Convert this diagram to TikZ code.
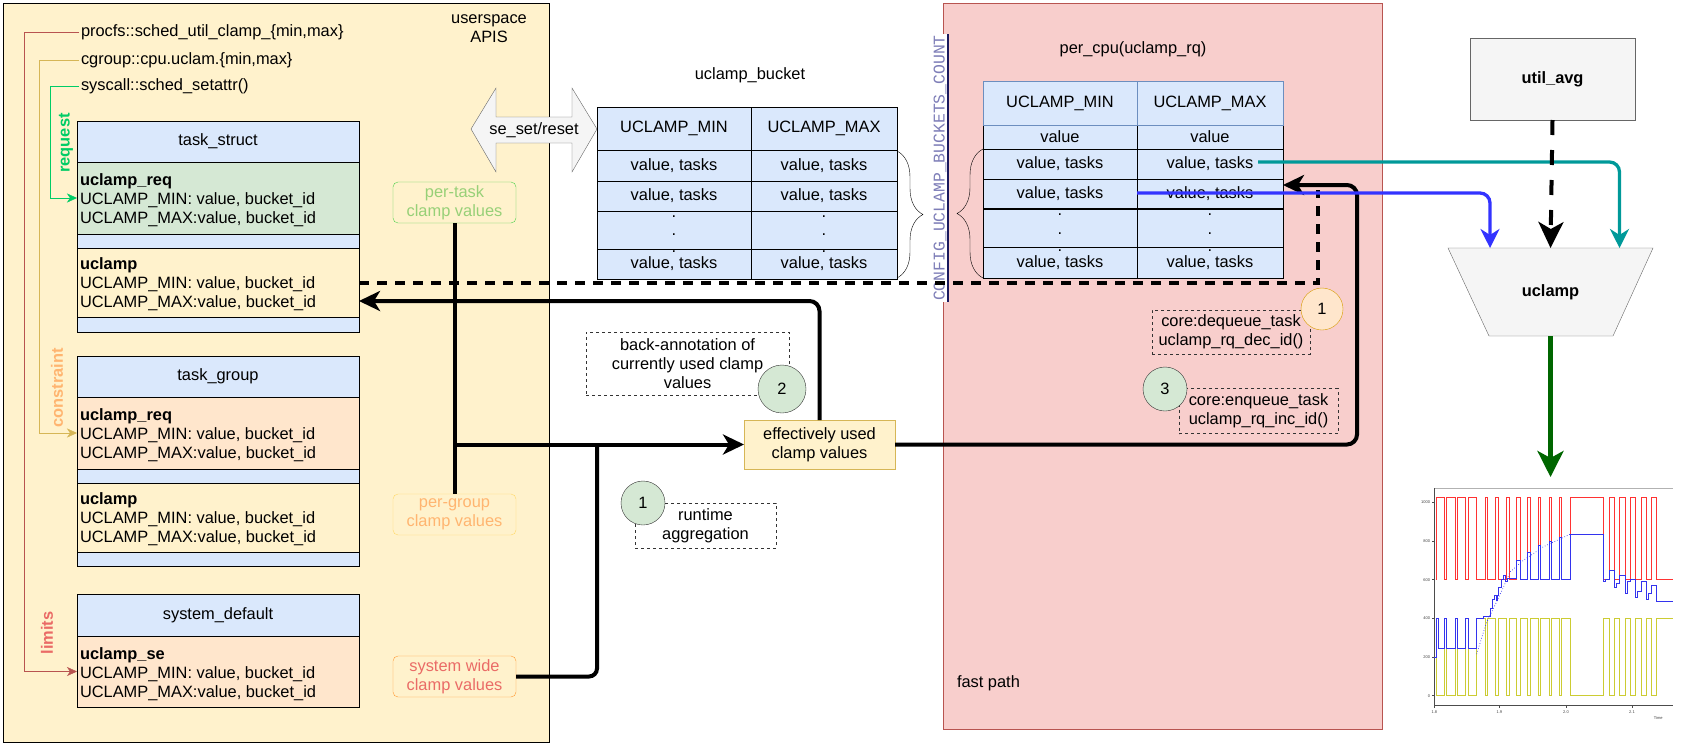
\documentclass[tikz,border=0pt]{standalone}
\usepackage{fontspec}
\setmainfont{Liberation Sans}
\newfontfamily\monofont{Liberation Mono}
\usetikzlibrary{arrows.meta,decorations.pathreplacing}
\definecolor{hdr}{HTML}{DAE8FC}
\definecolor{hdrS}{HTML}{6C8EBF}
\definecolor{greenF}{HTML}{D5E8D4}
\definecolor{peach}{HTML}{FFE6CC}
\definecolor{panelY}{HTML}{FFF2CC}
\definecolor{pinkF}{HTML}{F8CECC}
\definecolor{pinkS}{HTML}{B85450}
\definecolor{grayF}{HTML}{F5F5F5}
\definecolor{grayS}{HTML}{666666}
\definecolor{goldS}{HTML}{D6B656}
\definecolor{reqG}{HTML}{00CC66}
\definecolor{consO}{HTML}{FFB570}
\definecolor{limR}{HTML}{EA6B66}
\definecolor{ptS}{HTML}{4CD04C}
\definecolor{ptT}{HTML}{97D077}
\definecolor{pgS}{HTML}{FFD966}
\definecolor{swS}{HTML}{FF9933}
\definecolor{orS}{HTML}{D79B00}
\definecolor{cfgT}{HTML}{7E7EB8}
\definecolor{navyC}{HTML}{1A1A5E}
\definecolor{tealC}{HTML}{009999}
\definecolor{blueC}{HTML}{3333FF}
\definecolor{greenC}{HTML}{006600}
\definecolor{chartR}{HTML}{FF3333}
\definecolor{chartY}{HTML}{CCCC33}
\definecolor{chartB}{HTML}{3333EE}
\newcommand\fs{\fontsize{16.4}{19.2}\selectfont}
\begin{document}
\begin{tikzpicture}[x=1pt,y=-1pt,
  every node/.style={font=\fs, inner sep=0pt, outer sep=0pt},
  cellbox/.style 2 args={draw, anchor=north west, minimum width=#1, minimum height=#2},
  thinarrow/.style={-{Stealth[length=10pt,width=9pt,inset=3pt]}},
  bigarrow/.style={line width=4pt, -{Stealth[length=21pt,width=20pt,inset=6pt]}},
  midarrow/.style={line width=3.3pt, -{Stealth[length=19pt,width=19pt,inset=6pt]}},
  thickdash/.style={line width=4pt, dash pattern=on 10pt off 8pt},
  notebox/.style={draw=black!80, dash pattern=on 3pt off 3pt, line width=1pt, align=center},
  numcirc/.style={circle, draw=black!80, fill=greenF}
]
\useasboundingbox (0,0) rectangle (1686,745);

% panels
\node[cellbox={546}{739}, fill=panelY] (userpanel) at (3,3) {};
\node[cellbox={439}{726}, draw=pinkS, fill=pinkF] (fastpanel) at (943,3) {};
\node[align=center] (apis) at (489,29) {userspace\\APIS};
\node[anchor=west] (fastpath) at (957,683) {fast path};

% API labels
\node[anchor=west, inner sep=2pt] (procfs) at (79,32) {procfs::sched\_util\_clamp\_\{min,max\}};
\node[anchor=west, inner sep=2pt] (cgroup) at (79,60) {cgroup::cpu.uclam.\{min,max\}};
\node[anchor=west, inner sep=2pt] (syscall) at (79,86) {syscall::sched\_setattr()};

% task_struct
\node[cellbox={282}{41}, fill=hdr] (tshead) at (77,121) {task\_struct};
\node[cellbox={282}{72}, fill=greenF] (tsreq) at (77,162) {};
\node[cellbox={282}{14}, fill=hdr] (tss1) at (77,234) {};
\node[cellbox={282}{69}, fill=panelY] (tsuc) at (77,248) {};
\node[cellbox={282}{15}, fill=hdr] (tss2) at (77,317) {};
\node[anchor=west, align=left] (tsreqt) at (80,200) {\textbf{uclamp\_req}\\UCLAMP\_MIN: value, bucket\_id\\UCLAMP\_MAX:value, bucket\_id};
\node[anchor=west, align=left] (tsuct) at (80,284) {\textbf{uclamp}\\UCLAMP\_MIN: value, bucket\_id\\UCLAMP\_MAX:value, bucket\_id};

% task_group
\node[cellbox={282}{41}, fill=hdr] (tghead) at (77,356) {task\_group};
\node[cellbox={282}{72}, fill=peach] (tgreq) at (77,397) {};
\node[cellbox={282}{14}, fill=hdr] (tgs1) at (77,469) {};
\node[cellbox={282}{69}, fill=panelY] (tguc) at (77,483) {};
\node[cellbox={282}{14}, fill=hdr] (tgs2) at (77,552) {};
\node[anchor=west, align=left] (tgreqt) at (80,435) {\textbf{uclamp\_req}\\UCLAMP\_MIN: value, bucket\_id\\UCLAMP\_MAX:value, bucket\_id};
\node[anchor=west, align=left] (tguct) at (80,519) {\textbf{uclamp}\\UCLAMP\_MIN: value, bucket\_id\\UCLAMP\_MAX:value, bucket\_id};

% system_default
\node[cellbox={282}{42}, fill=hdr] (sdhead) at (77,594) {system\_default};
\node[cellbox={282}{71}, fill=peach] (sdse) at (77,636) {};
\node[anchor=west, align=left] (sdset) at (80,674) {\textbf{uclamp\_se}\\UCLAMP\_MIN: value, bucket\_id\\UCLAMP\_MAX:value, bucket\_id};

% side labels
\node[rotate=90, text=reqG, font=\fs\bfseries] (lreq) at (66,143) {request};
\node[rotate=90, text=consO, font=\fs\bfseries] (lcons) at (57,388) {constraint};
\node[rotate=90, text=limR, font=\fs\bfseries] (llim) at (47,633) {limits};

% API connectors
\draw[pinkS, thinarrow] (procfs.west) -- ++(-55,0) |- (sdse.west);
\draw[goldS, thinarrow] (cgroup.west) -- ++(-40,0) |- (tgreq.west);
\draw[reqG, thinarrow] (syscall.west) -- ++(-29,0) |- (tsreq.west);

% clamp value boxes
\node[draw=ptS, fill=panelY, rounded corners=5pt, minimum width=123, minimum height=41, align=center, text=ptT] (pertask) at (454.5,202.5) {per-task\\clamp values};
\node[draw=pgS, fill=panelY, rounded corners=5pt, minimum width=123, minimum height=41, align=center, text=consO] (pergroup) at (454.5,514.5) {per-group\\clamp values};
\node[draw=swS, fill=panelY, rounded corners=5pt, minimum width=123, minimum height=41, align=center, text=limR] (syswide) at (454.5,676.5) {system wide\\clamp values};
\node[draw=goldS, fill=panelY, minimum width=151, minimum height=49, align=center] (effective) at (819.5,444.5) {effectively used\\clamp values};

% se_set/reset double arrow
\draw[fill=grayF, draw=grayS] (471,129) -- (496,88) -- (496,117) -- (572,117) -- (572,88) -- (597,129) -- (572,172) -- (572,143) -- (496,143) -- (496,172) -- cycle;
\node (seset) at (534,130) {se\_set/reset};

% uclamp_bucket table
\node (buckett) at (750,75) {uclamp\_bucket};
\foreach \n/\t/\h in {h/107/43, a/150/31, b/181/30, d/211/38, e/249/30} {
  \node[cellbox={154}{\h}, fill=hdr] (bmin\n) at (597,\t) {};
  \node[cellbox={146}{\h}, fill=hdr] (bmax\n) at (751,\t) {};
}
\node (bt1) at (bminh) {UCLAMP\_MIN};
\node (bt2) at (bmaxh) {UCLAMP\_MAX};
\node (bt3) at (bmina) {value, tasks};
\node (bt4) at (bmaxa) {value, tasks};
\node (bt5) at (bminb) {value, tasks};
\node (bt6) at (bmaxb) {value, tasks};
\foreach \yy [count=\i] in {217,235,252} {
  \node (bdl\i) at (674,\yy) {.};
  \node (bdr\i) at (824,\yy) {.};
}
\node (bt9) at (bmine) {value, tasks};
\node (bt10) at (bmaxe) {value, tasks};
\draw[decorate, decoration={brace, amplitude=26pt}] (897,151) -- (897,278);

% per_cpu table
\node (pcpuT) at (1133,49) {per\_cpu(uclamp\_rq)};
\foreach \n/\t/\h in {h/81/44, v/125/24, a/149/30, b/179/30, d/209/38, e/247/31} {
  \node[cellbox={154}{\h}, fill=hdr] (pmin\n) at (983,\t) {};
  \node[cellbox={146}{\h}, fill=hdr] (pmax\n) at (1137,\t) {};
}
\draw[hdrS] (pminh.north west) rectangle (pmaxh.south east);
\draw[hdrS] (pminh.north east) -- (pminh.south east);
\draw[line width=1.6pt] (pmind.north west) -- (pmaxd.north east);
\node (pt1) at (pminh) {UCLAMP\_MIN};
\node (pt2) at (pmaxh) {UCLAMP\_MAX};
\node (pt3) at (pminv) {value};
\node (pt4) at (pmaxv) {value};
\node (pt5) at (pmina) {value, tasks};
\node (pt6) at (pmaxa) {value, tasks};
\node (pt7) at (pminb) {value, tasks};
\node (pt8) at (pmaxb) {value, tasks};
\foreach \yy [count=\i] in {215,234,251} {
  \node (pdl\i) at (1060,\yy) {.};
  \node (pdr\i) at (1210,\yy) {.};
}
\node (pt11) at (pmine) {value, tasks};
\node (pt12) at (pmaxe) {value, tasks};
\draw[decorate, decoration={brace, amplitude=26pt}] (983,278) -- (983,149);

% CONFIG label
\fill[white] (933,34) rectangle (948,302);
\draw[navyC, line width=2pt] (948,34) -- (948,302);
\node[rotate=90, text=cfgT, font=\fs\monofont] (cfg) at (940,168) {CONFIG\_UCLAMP\_BUCKETS\_COUNT};

% notes
\node[notebox, minimum width=203, minimum height=63] (backann) at (687.5,363.5) {back-annotation of\\currently used clamp\\values};
\node[notebox, minimum width=141, minimum height=45] (runtime) at (705.5,525.5) {runtime\\aggregation};
\node[notebox, minimum width=158, minimum height=44] (dequeue) at (1231,332) {core:dequeue\_task\\uclamp\_rq\_dec\_id()};
\node[notebox, minimum width=159, minimum height=45] (enqueue) at (1258.5,411) {core:enqueue\_task\\uclamp\_rq\_inc\_id()};

% right side
\node[draw=grayS, fill=grayF, minimum width=165, minimum height=82, font=\fs\bfseries] (utilavg) at (1552.5,79) {util\_avg};
\draw[fill=grayF, draw=grayS] (1448,248) -- (1653,248) -- (1613,336) -- (1489,336) -- cycle;
\node[minimum width=205, minimum height=88, font=\fs\bfseries] (uclampT) at (1550.5,292) {uclamp};
\coordinate (charttop) at (1550.5,477);

% connectors
\coordinate (j2) at (597,444.5);
\coordinate (loopc) at (1357,185);
\coordinate (dqtop) at (1318,190);
\draw[line width=4pt] (pertask.south) -- (pergroup.north);
\draw[bigarrow] (pertask.south |- effective.west) -- (effective.west);
\draw[line width=4pt, rounded corners=8pt] (syswide.east) -| (j2);
\draw[bigarrow, rounded corners=10pt] (effective.north) |- ([yshift=-18.5pt]tsuc.east);
\draw[thickdash] (tsuc.east) -| (dqtop);
\draw[bigarrow, rounded corners=10pt] (effective.east) -| (loopc) -- ([yshift=9pt]pmaxb.east);
\draw[tealC, midarrow, rounded corners=10pt] ([xshift=-25pt,yshift=2pt]pmaxa.east) -| ([xshift=69pt]uclampT.north);
\draw[blueC, midarrow, rounded corners=10pt] ([yshift=1pt]pmaxb.west) -| ([xshift=-60.5pt]uclampT.north);
\draw[line width=4pt, dash pattern=on 15pt off 15pt, -{Stealth[length=26pt,width=25pt,inset=7pt]}] (utilavg.south) -- (uclampT.north);
\draw[greenC, line width=4.5pt, -{Stealth[length=26pt,width=26pt,inset=7pt]}] (uclampT.south) -- (charttop);

% number circles
\node[circle, draw=orS, fill=peach, minimum size=42] (c1o) at (1322,309) {1};
\node[numcirc, minimum size=44] (c3) at (1165,389) {3};
\node[numcirc, minimum size=48] (c2) at (782,389) {2};
\node[numcirc, minimum size=44] (c1g) at (643,503) {1};

% chart
\begin{scope}[shift={(1290,695.67)}, x=0.33333pt, y=0.19333pt]
  \draw[black!30, line width=0.5pt] (433,1072) -- (1150,1072);
  \draw[black!70, line width=0.6pt] (433,1072) -- (433,-52) -- (1150,-52);
  \foreach \v [count=\i] in {0,200,400,600,800,1000} {
    \draw[black!70, line width=0.4pt] (433,\v) -- (425,\v);
    \node[anchor=east, font=\fontsize{4}{5}\selectfont, text=black!75] (yt\i) at (420,\v) {\v};
  }
  \foreach \xx/\lab [count=\i] in {433/1.8, 628/1.9, 828/2.0, 1026/2.1} {
    \draw[black!70, line width=0.4pt] (\xx,-52) -- (\xx,-64);
    \node[font=\fontsize{4}{5}\selectfont, text=black!75] (xt\i) at (\xx,-85) {\lab};
  }
  \node[font=\fontsize{4}{5}\selectfont, text=black!75] (timelbl) at (1105,-118) {Time};
  \draw[chartR, line width=0.7pt] (440,600)
    \foreach \a/\b in {440/463, 470/497, 503/525, 535/560, 585/593, 617/625, 650/657, 680/690, 712/720, 745/752, 777/785, 808/815, 840/940, 958/972, 988/1005, 1020/1037, 1053/1070, 1085/1100}
    { -- (\a,600) -- (\a,1024) -- (\b,1024) -- (\b,600) } -- (1150,600);
  \draw[chartY, line width=0.7pt] (440,400)
    \foreach \a/\b in {440/463, 470/497, 503/525, 535/560, 585/593, 617/625, 650/657, 680/690, 712/720, 745/752, 777/785, 808/815, 840/940, 958/972, 988/1005, 1020/1037, 1053/1070, 1085/1100}
    { -- (\a,400) -- (\a,0) -- (\b,0) -- (\b,400) } -- (1150,400);
  \draw[chartB, line width=0.7pt, dotted] (560,215) -- (575,300) -- (590,380) -- (610,450) -- (640,560) -- (660,640) -- (700,700) -- (760,770) -- (840,835);
  \draw[chartB, line width=0.7pt] (433,200) -| (438,400) -| (445,245) -| (463,400) -| (470,245) -| (497,400) -| (503,245) -| (525,400) -| (535,245) -| (560,400) -| (580,410) -| (600,450) -| (606,500) -| (612,520) -| (618,495) -| (622,520) -| (626,560) -| (634,600) -| (640,620) -| (646,590) -| (652,605) -| (680,700) -| (690,600) -| (712,740) -| (720,600) -| (745,780) -| (752,600) -| (777,800) -| (785,600) -| (808,820) -| (815,600) -| (840,835) -| (940,590) -| (946,600) -| (958,650) -| (972,560) -| (978,580) -| (988,620) -| (1005,530) -| (1012,590) -| (1020,600) -| (1037,510) -| (1042,540) -| (1053,590) -| (1070,500) -| (1076,530) -| (1085,570) -| (1100,490) -| (1150,490);
\end{scope}
\end{tikzpicture}
\end{document}
